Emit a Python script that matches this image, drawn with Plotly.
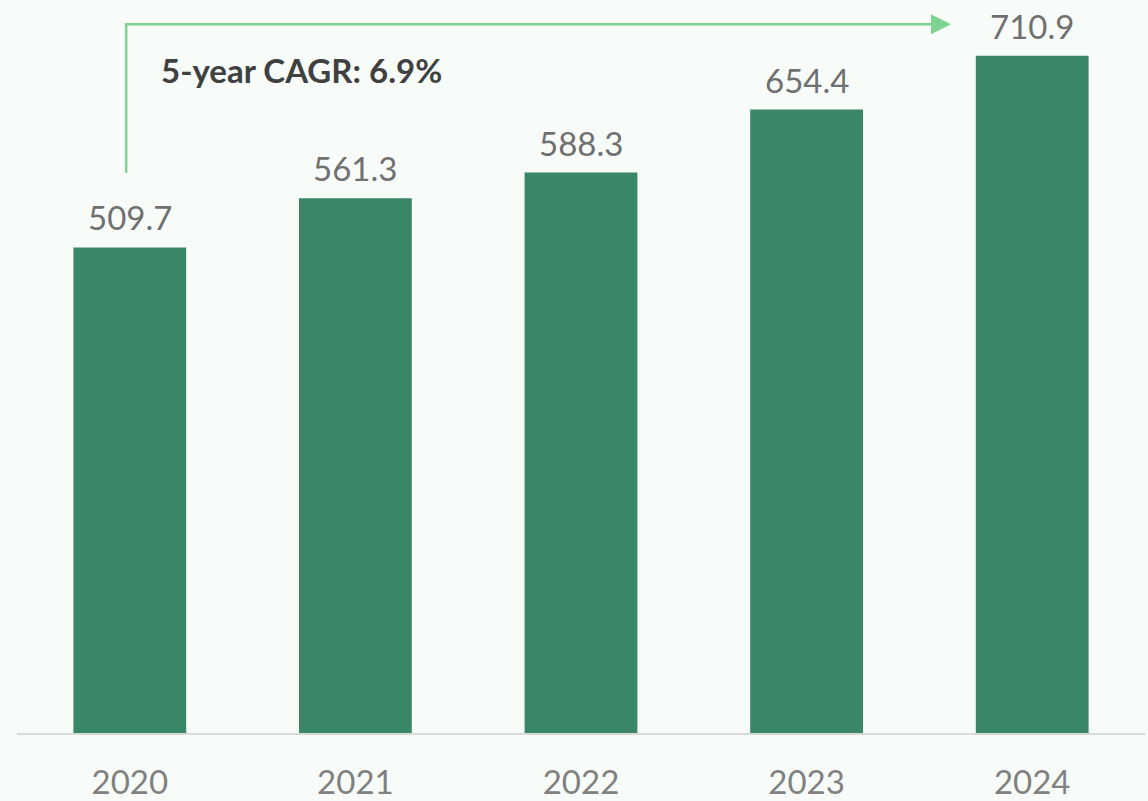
import plotly.graph_objects as go

# Market size by year
years = ["2020", "2021", "2022", "2023", "2024"]
values = [509.7, 561.3, 588.3, 654.4, 710.9]
cagr_label = "5-year CAGR: 6.9%"

BG = "#F7FCF9"
BAR = "#3A8767"
ARROW = "#7DD38F"
FONT = "Lato, 'Open Sans', sans-serif"

xs = list(range(len(years)))

fig = go.Figure(
    go.Bar(
        x=xs,
        y=values,
        width=0.5,
        marker=dict(color=BAR, line=dict(width=0)),
        hoverinfo="skip",
    )
)

# Value labels above each bar
for x, v in zip(xs, values):
    fig.add_annotation(
        x=x, y=v, text=f"{v:.1f}", showarrow=False,
        yanchor="bottom", yshift=8,
        font=dict(family=FONT, size=33, color="#707070"),
    )

# CAGR bracket: vertical rise from the first bar, run across to the last
y_low, y_high = 588, 744
fig.add_shape(
    type="path",
    path=f"M -0.016 {y_low} L -0.016 {y_high} L 3.58 {y_high}",
    xref="x", yref="y",
    line=dict(color=ARROW, width=2.5),
)
fig.add_annotation(
    x=3.64, y=y_high, ax=3.56, ay=y_high,
    xref="x", yref="y", axref="x", ayref="y",
    showarrow=True, arrowhead=2, arrowsize=1.6, arrowwidth=2.5,
    arrowcolor=ARROW, text="",
)
fig.add_annotation(
    x=0.126, y=0.905, xref="paper", yref="paper",
    xanchor="left", yanchor="middle", showarrow=False,
    text=f"<b>{cagr_label}</b>",
    font=dict(family=FONT, size=33, color="#404040"),
)

fig.update_layout(
    width=1148, height=801,
    margin=dict(l=17, r=3, t=0, b=66),
    paper_bgcolor=BG, plot_bgcolor=BG,
    showlegend=False,
    bargap=0.5,
    xaxis=dict(
        range=[-0.5, 4.5],
        tickvals=xs, ticktext=years,
        showgrid=False, zeroline=False,
        showline=True, linecolor="#D9D9D9", linewidth=2,
        ticks="", ticklabelstandoff=19,
        tickfont=dict(family=FONT, size=33, color="#808080"),
    ),
    yaxis=dict(
        range=[0, 769.4],
        visible=False, showgrid=False, zeroline=False,
    ),
)

fig.write_html("out.html")
